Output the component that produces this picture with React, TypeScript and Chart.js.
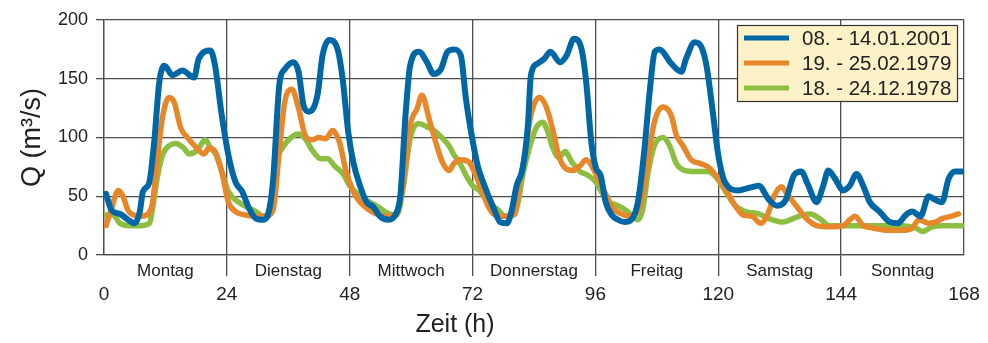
import React, { useEffect, useRef } from 'react';
import { Chart, registerables } from 'chart.js';

Chart.register(...registerables);

const FONT = "'Liberation Sans', Arial, Helvetica, sans-serif";

const dayLabels = ['Montag', 'Dienstag', 'Mittwoch', 'Donnerstag', 'Freitag', 'Samstag', 'Sonntag'];
const hourTicks = [0, 24, 48, 72, 96, 120, 144, 168];
const qTicks = [0, 50, 100, 150, 200];
const seriesLabels = ['08. - 14.01.2001', '19. - 25.02.1979', '18. - 24.12.1978'];
const seriesColors = ['#0067a6', '#e8872a', '#8cbf41'];
const xTitle = 'Zeit (h)';
const yTitle = 'Q (m³/s)';

const blueHours = [0.4, 1.5, 3.1, 4.7, 6, 7, 7.6, 8.8, 9.8, 10.8, 11.8, 13.4, 15.3, 17.6, 18.5, 20.8, 21.7, 23, 24.3, 25.7, 27, 28.3, 29.7, 31, 31.9, 33, 34.3, 35.3, 37, 38, 39, 40, 41.7, 42.7, 44, 45.7, 46.7, 47.7, 48.7, 50, 51.3, 52.6, 53.9, 55.6, 56.9, 57.9, 58.9, 59.8, 61.5, 63.1, 64.4, 65.8, 67.1, 68.4, 69.7, 70.7, 71.7, 73, 74.5, 76.1, 77.4, 78.7, 79.6, 80.6, 81.8, 82.8, 83.4, 84.7, 86, 87.2, 89.1, 90.4, 91.8, 93.3, 94.2, 95.2, 96.1, 97, 98, 99.2, 100.4, 101.7, 103, 104.3, 105.6, 106.6, 107.6, 108.5, 110.8, 112.8, 113.7, 115.4, 116.7, 117.7, 119, 120, 121.3, 123.9, 125.9, 127.9, 129.9, 131.5, 133.2, 134.8, 136.2, 137.5, 139.2, 140.5, 141.5, 142.8, 144.4, 145.7, 147, 148.3, 149.6, 151.5, 153.5, 155.1, 156.6, 157.9, 159.5, 161.1, 162.4, 163.7, 165, 166.3, 167.6];
const blueQ = [52, 38, 35, 30, 27, 37, 54, 61, 96, 147, 161, 153, 157, 151, 167, 174, 161, 119, 85, 62, 54, 40, 31, 30, 33, 62, 147, 158, 164, 156, 127, 122, 136, 170, 183, 174, 147, 105, 79, 59, 45, 41, 33, 30, 34, 51, 119, 161, 173, 164, 154, 158, 173, 175, 170, 133, 105, 76, 57, 40, 28, 27, 37, 59, 74, 110, 153, 163, 167, 173, 164, 170, 184, 175, 147, 96, 74, 68, 45, 34, 30, 28, 30, 45, 91, 139, 173, 175, 163, 156, 167, 181, 177, 161, 119, 85, 62, 55, 57, 59, 47, 42, 47, 68, 71, 60, 45, 59, 72, 65, 55, 59, 69, 59, 45, 37, 28, 27, 34, 37, 33, 50, 47, 45, 65, 71, 71];

const orangeHours = [0.4, 1.5, 2.8, 3.7, 4.7, 5.7, 7.3, 8.6, 9.5, 10.5, 11.5, 12.7, 13.7, 15, 16.3, 17.9, 19.5, 20.5, 21.7, 23, 24.3, 25.7, 27.7, 29.7, 31.7, 33, 34.3, 35.3, 36.7, 38, 39.3, 40.7, 42, 43.3, 44.7, 46, 47.3, 48.7, 50, 51.9, 53.9, 55.6, 57.2, 58.5, 59.8, 61.2, 62.1, 63.5, 64.8, 66.1, 67.4, 68.4, 69.7, 71.3, 72.6, 73.9, 75.2, 76.4, 78.3, 80.3, 81.2, 82.2, 83.4, 85, 86.3, 87.6, 88.8, 90.1, 91.7, 93, 94.2, 95.5, 96.8, 98.1, 99.4, 101, 102.7, 104.9, 106.2, 107.5, 109.2, 110.8, 111.8, 113.1, 114.7, 116.4, 118, 119.3, 121.3, 123.3, 124.9, 126.6, 128.3, 129.6, 130.9, 132.3, 133.6, 135.2, 137.2, 139.2, 141.8, 144.4, 145.7, 146.7, 148.3, 150.2, 153.4, 156.6, 157.9, 159.2, 161.1, 162.4, 163.7, 165.6, 166.9];
const orangeQ = [25, 40, 55, 50, 38, 34, 33, 35, 45, 85, 119, 134, 130, 108, 100, 92, 86, 91, 88, 71, 45, 37, 34, 33, 33, 38, 91, 130, 141, 125, 102, 98, 100, 99, 106, 96, 71, 54, 45, 38, 34, 33, 35, 62, 110, 125, 136, 116, 96, 79, 72, 78, 81, 79, 68, 54, 40, 34, 33, 35, 62, 85, 119, 134, 127, 108, 85, 74, 72, 76, 81, 74, 62, 51, 40, 35, 33, 45, 79, 113, 126, 119, 102, 93, 81, 78, 75, 69, 57, 42, 34, 33, 27, 34, 50, 58, 51, 42, 31, 25, 24, 25, 30, 33, 25, 23, 21, 21, 23, 30, 27, 28, 31, 33, 35];

const greenHours = [0.2, 1.8, 3.1, 5, 6.9, 8.9, 9.5, 10.5, 11.5, 12.7, 14, 15.6, 16.6, 18.2, 19.8, 20.8, 21.8, 23, 24.3, 26.3, 28.3, 29.7, 31, 32.3, 33, 33.8, 35, 36.3, 38, 39.3, 40.7, 42.3, 43.7, 45, 46.7, 48, 50, 51.9, 53.9, 55.6, 57.2, 58.5, 59.8, 61.5, 63.1, 64.8, 66.4, 67.4, 68.4, 69.4, 70.7, 72, 73.3, 74.5, 75.8, 77.1, 78.3, 79.9, 80.9, 81.8, 83.1, 84.4, 85.7, 86.6, 87.6, 88.8, 90.1, 91.4, 93, 94.5, 96.1, 97.4, 98.7, 100.4, 102, 103, 104.3, 105.3, 106.2, 107.5, 109.2, 110.5, 111.8, 113.4, 115.4, 118, 119.6, 121.3, 123.3, 125.3, 127.9, 129.9, 132.6, 134.6, 136.5, 138, 139.8, 141.8, 144.4, 148.3, 152.2, 156, 158.6, 159.9, 161.8, 163.7, 167.6];
const greenQ = [34, 34, 27, 25, 25, 27, 40, 68, 86, 93, 95, 91, 86, 89, 98, 91, 86, 71, 54, 45, 40, 37, 33, 34, 50, 80, 92, 99, 103, 99, 89, 82, 82, 76, 69, 59, 50, 45, 40, 35, 34, 59, 99, 112, 109, 105, 98, 93, 85, 79, 68, 59, 55, 48, 42, 38, 33, 34, 45, 68, 91, 108, 113, 106, 92, 83, 88, 79, 71, 68, 62, 52, 45, 42, 38, 34, 30, 40, 68, 93, 100, 93, 78, 72, 71, 71, 66, 55, 42, 37, 35, 31, 28, 31, 34, 35, 31, 25, 25, 25, 25, 25, 23, 20, 24, 25, 25];

const seriesHours = [blueHours, orangeHours, greenHours];
const seriesQ = [blueQ, orangeQ, greenQ];
const seriesWidths = [6, 5.5, 5.5];

const GRID = '#4d4d4d';
const TEXT = '#222222';

const legendBoxPlugin = {
  id: 'legendBox',
  afterDatasetsDraw(chart: any) {
    const { ctx, chartArea } = chart;
    const left = chartArea.right - 227;
    const top = chartArea.top + 5;
    const w = 220;
    const h = 76;
    ctx.save();
    ctx.fillStyle = '#fdf1c8';
    ctx.fillRect(left, top, w, h);
    ctx.strokeStyle = '#333333';
    ctx.lineWidth = 1.2;
    ctx.strokeRect(left + 0.5, top + 0.5, w, h);
    const rows = [13, 38, 63];
    chart.data.datasets.forEach((ds: any, i: number) => {
      const y = top + rows[i];
      ctx.strokeStyle = ds.borderColor;
      ctx.lineWidth = 5;
      ctx.lineCap = 'butt';
      ctx.beginPath();
      ctx.moveTo(left + 7, y);
      ctx.lineTo(left + 52, y);
      ctx.stroke();
      ctx.fillStyle = TEXT;
      ctx.font = `20.5px ${FONT}`;
      ctx.textAlign = 'left';
      ctx.textBaseline = 'middle';
      ctx.fillText(ds.label, left + 65, y + 1);
    });
    ctx.restore();
  },
};

const xTitlePlugin = {
  id: 'xTitle',
  afterDraw(chart: any) {
    const { ctx, chartArea } = chart;
    ctx.save();
    ctx.fillStyle = TEXT;
    ctx.font = `25px ${FONT}`;
    ctx.textAlign = 'center';
    ctx.textBaseline = 'middle';
    ctx.fillText(xTitle, chartArea.left + 351, 325);
    ctx.restore();
  },
};

export default function App() {
  const canvasRef = useRef<HTMLCanvasElement | null>(null);

  useEffect(() => {
    document.body.style.margin = '0';
    const canvas = canvasRef.current;
    if (!canvas) return;
    const dayCenters = dayLabels.map((_, i) => i * 24 + 12);
    const xTickValues = [...hourTicks, ...dayCenters].sort((a, b) => a - b);

    const chart = new Chart(canvas, {
      type: 'line',
      data: {
        datasets: seriesLabels.map((label, i) => ({
          label,
          data: seriesHours[i].map((h, j) => ({ x: h, y: seriesQ[i][j] })),
          borderColor: seriesColors[i],
          backgroundColor: seriesColors[i],
          borderWidth: seriesWidths[i],
          pointRadius: 0,
          cubicInterpolationMode: 'monotone' as const,
          borderCapStyle: 'round' as const,
          borderJoinStyle: 'round' as const,
          fill: false,
        })),
      },
      options: {
        animation: false,
        responsive: false,
        devicePixelRatio: 1,
        layout: { padding: { top: 20, right: 24, bottom: 0, left: 0 } },
        plugins: {
          legend: { display: false },
          tooltip: { enabled: false },
        },
        scales: {
          x: {
            type: 'linear',
            min: 0,
            max: 168,
            afterBuildTicks: (scale: any) => {
              scale.ticks = xTickValues.map((v) => ({ value: v }));
            },
            afterFit: (scale: any) => {
              scale.height = 88;
            },
            ticks: {
              autoSkip: false,
              maxRotation: 0,
              minRotation: 0,
              padding: -16,
              color: TEXT,
              font: (ctx: any) => ({
                family: FONT,
                size: ctx.tick && ctx.tick.value % 24 === 0 ? 19 : 17,
                lineHeight: '23px',
              }),
              callback: (value: any) => {
                const v = Number(value);
                if (v % 24 === 0) return ['', String(v)];
                return dayLabels[(v - 12) / 24];
              },
            },
            grid: {
              color: (ctx: any) => (ctx.tick && ctx.tick.value % 24 === 0 ? GRID : 'rgba(0,0,0,0)'),
              tickColor: (ctx: any) =>
                ctx.tick && ctx.tick.value % 24 === 0 && ctx.tick.value > 0 && ctx.tick.value < 168
                  ? GRID
                  : 'rgba(0,0,0,0)',
              tickLength: 21,
              lineWidth: 1.3,
            },
            border: { display: true, color: GRID, width: 1.3 },
            title: { display: false },
          },
          y: {
            type: 'linear',
            min: 0,
            max: 200,
            afterBuildTicks: (scale: any) => {
              scale.ticks = qTicks.map((v) => ({ value: v }));
            },
            afterFit: (scale: any) => {
              scale.width = 104;
            },
            ticks: {
              padding: 8,
              color: TEXT,
              font: { family: FONT, size: 18 },
            },
            grid: {
              color: GRID,
              tickColor: GRID,
              tickLength: 8,
              lineWidth: 1.3,
            },
            border: { display: true, color: GRID, width: 1.3 },
            title: {
              display: true,
              text: yTitle,
              color: TEXT,
              font: { family: FONT, size: 27, lineHeight: 1.2 },
              padding: { top: 16, bottom: 0 },
            },
          },
        },
      },
      plugins: [legendBoxPlugin, xTitlePlugin],
    });
    return () => chart.destroy();
  }, []);

  return (
    <div style={{ width: 988, height: 343 }}>
      <canvas ref={canvasRef} width={988} height={343} style={{ display: 'block' }} />
    </div>
  );
}
